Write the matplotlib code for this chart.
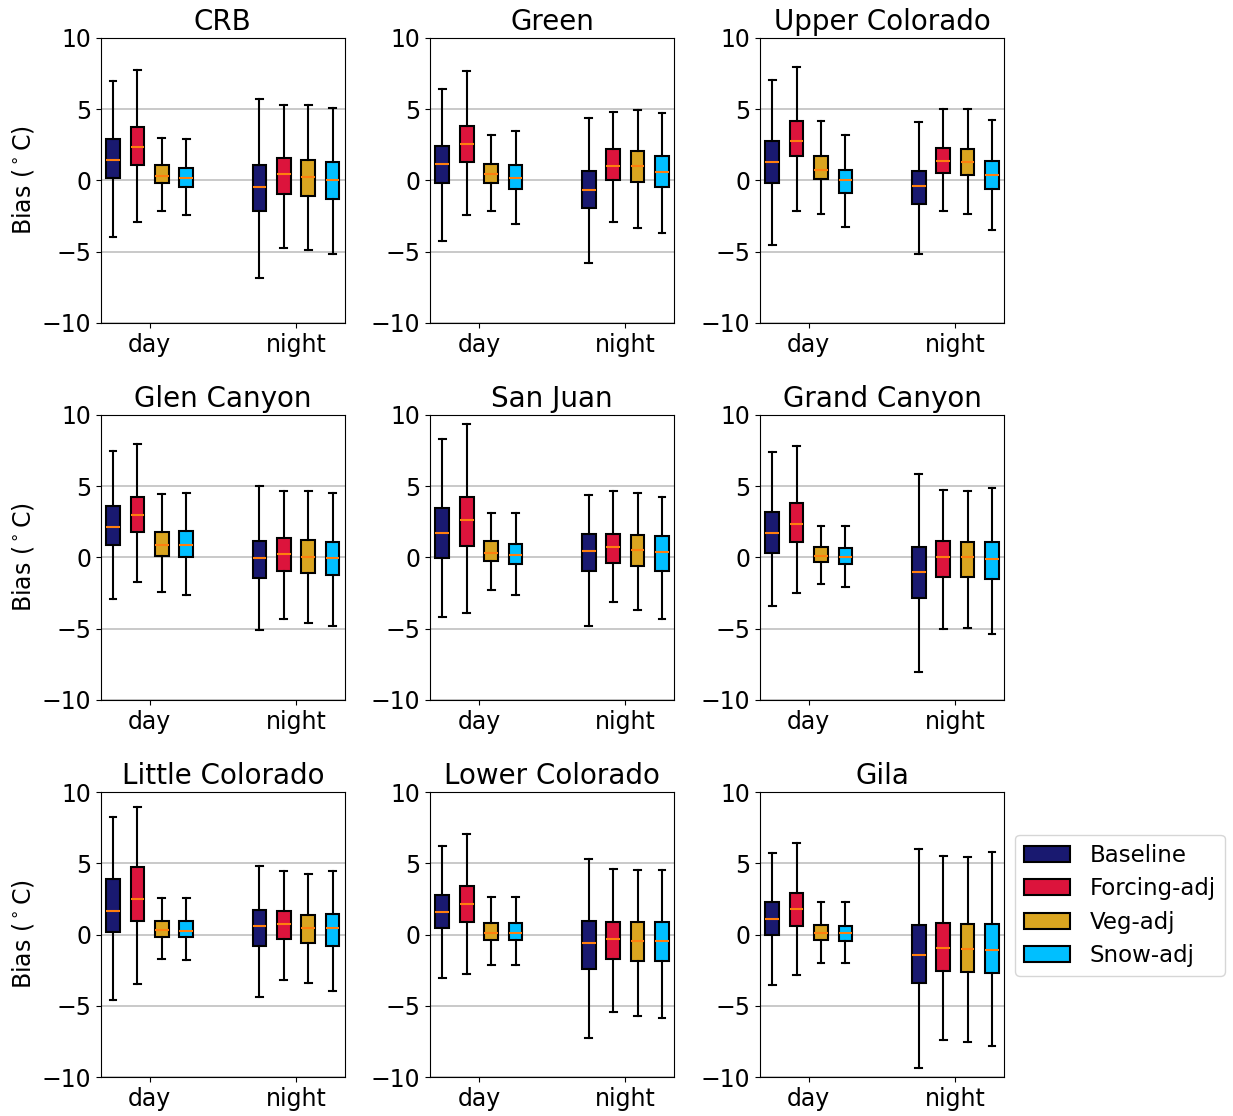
import matplotlib
matplotlib.use("Agg")
import matplotlib.pyplot as plt
from matplotlib.patches import Patch

basins = ["CRB", "Green", "Upper Colorado",
          "Glen Canyon", "San Juan", "Grand Canyon",
          "Little Colorado", "Lower Colorado", "Gila"]
periods = ["day", "night"]
runs = ["Baseline", "Forcing-adj", "Veg-adj", "Snow-adj"]
colors = ["midnightblue", "crimson", "goldenrod", "deepskyblue"]

# per basin: [period][run] -> (whislo, q1, med, q3, whishi)
stats = {
    "CRB": [
        [(-3.94, 0.14, 1.42, 2.91, 7.00), (-2.89, 1.07, 2.35, 3.75, 7.74),
         (-2.12, -0.16, 0.33, 1.07, 2.98), (-2.45, -0.44, 0.14, 0.89, 2.91)],
        [(-6.83, -2.12, -0.44, 1.07, 5.69), (-4.71, -0.93, 0.42, 1.61, 5.27),
         (-4.90, -1.10, 0.26, 1.47, 5.31), (-5.17, -1.33, 0.02, 1.28, 5.08)],
    ],
    "Green": [
        [(-4.24, -0.21, 1.12, 2.45, 6.43), (-2.45, 1.31, 2.59, 3.85, 7.65),
         (-2.17, -0.19, 0.47, 1.17, 3.17), (-3.03, -0.63, 0.14, 1.05, 3.47)],
        [(-5.78, -1.91, -0.65, 0.68, 4.41), (-2.91, 0.02, 1.03, 2.19, 4.83),
         (-3.31, -0.09, 0.98, 2.07, 4.94), (-3.68, -0.44, 0.58, 1.72, 4.76)],
    ],
    "Upper Colorado": [
        [(-4.55, -0.16, 1.28, 2.77, 7.06), (-2.12, 1.70, 2.77, 4.17, 7.95),
         (-2.33, 0.07, 0.72, 1.72, 4.17), (-3.24, -0.86, 0.00, 0.72, 3.17)],
        [(-5.13, -1.68, -0.37, 0.68, 4.13), (-2.12, 0.54, 1.38, 2.31, 4.99),
         (-2.38, 0.35, 1.28, 2.24, 4.99), (-3.45, -0.63, 0.40, 1.38, 4.27)],
    ],
    "Glen Canyon": [
        [(-2.95, 0.90, 2.15, 3.60, 7.46), (-1.73, 1.80, 2.95, 4.23, 7.93),
         (-2.43, 0.08, 0.90, 1.80, 4.44), (-2.64, 0.03, 0.85, 1.83, 4.55)],
        [(-5.09, -1.41, -0.06, 1.15, 5.04), (-4.34, -0.92, 0.22, 1.34, 4.69),
         (-4.58, -1.08, 0.06, 1.20, 4.69), (-4.83, -1.22, -0.06, 1.11, 4.55)],
    ],
    "San Juan": [
        [(-4.20, -0.01, 1.73, 3.48, 8.32), (-3.88, 0.80, 2.60, 4.27, 9.39),
         (-2.28, -0.27, 0.31, 1.13, 3.15), (-2.64, -0.48, 0.17, 0.97, 3.15)],
        [(-4.78, -0.94, 0.48, 1.66, 4.37), (-3.16, -0.36, 0.76, 1.66, 4.65),
         (-3.72, -0.59, 0.52, 1.55, 4.51), (-4.34, -0.94, 0.36, 1.50, 4.23)],
    ],
    "Grand Canyon": [
        [(-3.41, 0.34, 1.73, 3.22, 7.41), (-2.51, 1.06, 2.32, 3.81, 7.79),
         (-1.83, -0.34, 0.13, 0.73, 2.20), (-2.06, -0.43, 0.06, 0.66, 2.20)],
        [(-8.07, -2.83, -0.99, 0.71, 5.86), (-5.04, -1.36, 0.06, 1.15, 4.76),
         (-4.97, -1.36, 0.01, 1.06, 4.69), (-5.39, -1.52, -0.08, 1.06, 4.90)],
    ],
    "Little Colorado": [
        [(-4.56, 0.16, 1.67, 3.91, 8.28), (-3.49, 0.98, 2.49, 4.72, 8.98),
         (-1.70, -0.14, 0.33, 0.93, 2.53), (-1.81, -0.14, 0.28, 0.93, 2.53)],
        [(-4.40, -0.81, 0.58, 1.72, 4.79), (-3.16, -0.33, 0.77, 1.67, 4.44),
         (-3.37, -0.60, 0.44, 1.37, 4.23), (-3.98, -0.77, 0.44, 1.47, 4.44)],
    ],
    "Lower Colorado": [
        [(-3.07, 0.44, 1.60, 2.79, 6.21), (-2.74, 0.91, 2.14, 3.44, 7.07),
         (-2.16, -0.37, 0.12, 0.81, 2.60), (-2.16, -0.37, 0.12, 0.81, 2.60)],
        [(-7.23, -2.42, -0.60, 0.95, 5.30), (-5.44, -1.72, -0.28, 0.91, 4.58),
         (-5.74, -1.84, -0.44, 0.86, 4.53), (-5.86, -1.84, -0.44, 0.86, 4.53)],
    ],
    "Gila": [
        [(-3.51, -0.02, 1.09, 2.28, 5.74), (-2.81, 0.60, 1.77, 2.93, 6.40),
         (-1.98, -0.40, 0.09, 0.70, 2.30), (-2.02, -0.47, 0.09, 0.63, 2.26)],
        [(-9.37, -3.42, -1.42, 0.67, 6.02), (-7.42, -2.53, -0.93, 0.79, 5.51),
         (-7.51, -2.60, -1.02, 0.72, 5.42), (-7.79, -2.72, -1.09, 0.72, 5.79)],
    ],
}

group_x = [0, 3]
offsets = [-0.75, -0.25, 0.25, 0.75]

fig = plt.figure(figsize=(12.33, 11.16), dpi=100)
lefts = [0.0817, 0.3488, 0.6164]
bottoms = [0.7106, 0.3728, 0.0349]
w, h = 0.198, 0.2554

axes = []
for i, basin in enumerate(basins):
    r, c = divmod(i, 3)
    ax = fig.add_axes([lefts[c], bottoms[r], w, h])
    axes.append(ax)
    for p, gx in enumerate(group_x):
        for k, run in enumerate(runs):
            lo, q1, med, q3, hi = stats[basin][p][k]
            s = [dict(whislo=lo, q1=q1, med=med, q3=q3, whishi=hi, fliers=[])]
            ax.bxp(s, positions=[gx + offsets[k]], widths=0.28,
                   patch_artist=True, showfliers=False,
                   boxprops=dict(facecolor=colors[k], edgecolor="black", linewidth=1.5),
                   medianprops=dict(color="#ff7f0e", linewidth=1.5),
                   whiskerprops=dict(color="black", linewidth=1.5),
                   capprops=dict(color="black", linewidth=1.5))
    ax.set_xlim(-1.0, 4.0)
    ax.set_ylim(-10, 10)
    ax.set_yticks([-10, -5, 0, 5, 10])
    ax.set_xticks(group_x)
    ax.set_xticklabels(periods)
    ax.yaxis.grid(True, color="#c0c0c0", linewidth=1.2)
    ax.set_axisbelow(True)
    ax.tick_params(labelsize=17)
    ax.set_title(basin, fontsize=20)
    if c == 0:
        ax.set_ylabel("Bias ($^\\circ$C)", fontsize=17)

handles = [Patch(facecolor=col, edgecolor="black", linewidth=1.5, label=run)
           for run, col in zip(runs, colors)]
axes[-1].legend(handles=handles, loc="upper left", bbox_to_anchor=(1.045, 0.85),
                fontsize=16.5, borderaxespad=0, labelspacing=0.45, handletextpad=0.85)

fig.savefig("out.png", dpi=100)
